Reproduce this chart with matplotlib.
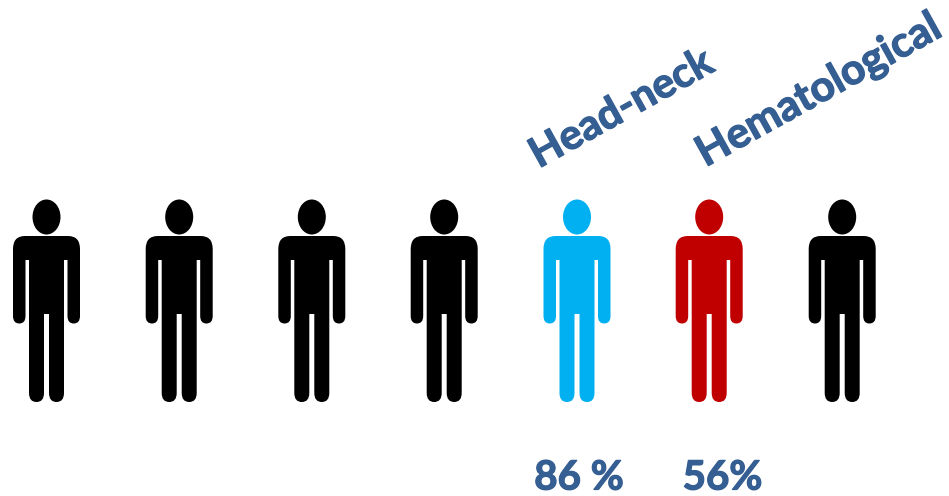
import matplotlib
matplotlib.use("Agg")
import matplotlib.pyplot as plt
import matplotlib.patheffects as pe
from matplotlib.patches import Ellipse, PathPatch
from matplotlib.path import Path

WIDTH, HEIGHT = 949, 496

person_x = [46.5, 179.2, 311.8, 444.2, 577, 709.2, 842.2]
person_colors = ["#000000", "#000000", "#000000", "#000000", "#00B0F0", "#C00000", "#000000"]
site_labels = ["Head-neck", "Hematological"]
pct_labels = ["86 %", "56%"]

BLUE = "#355F92"

plt.rcParams["font.family"] = ["Lato", "DejaVu Sans"]


def person_path(cx):
    """Pictogram body outline, symmetric around cx, in pixel coordinates."""
    # right half first, from the top of the shoulders down to the crotch
    half = [
        (Path.MOVETO, 0, 236),
        (Path.LINETO, 21.5, 236),
        (Path.CURVE3, 33.5, 236), (Path.CURVE3, 33.5, 249),
        (Path.LINETO, 33.5, 316),
        (Path.CURVE3, 33.5, 323.5), (Path.CURVE3, 27.2, 323.5),
        (Path.CURVE3, 21, 323.5), (Path.CURVE3, 21, 316),
        (Path.LINETO, 21, 260),
        (Path.LINETO, 17.5, 260),
        (Path.LINETO, 17.5, 393),
        (Path.CURVE3, 17.5, 402), (Path.CURVE3, 10, 402),
        (Path.CURVE3, 2.5, 402), (Path.CURVE3, 2.5, 393),
        (Path.LINETO, 2.5, 314),
    ]
    codes = [c for c, _, _ in half]
    verts = [(cx + dx, y) for _, dx, y in half]
    # mirror it back up the left side
    codes.append(Path.LINETO)
    verts.append((cx - half[-1][1], half[-1][2]))
    for i in range(len(half) - 1, 0, -1):
        _, dx, y = half[i - 1]
        codes.append(half[i][0])
        verts.append((cx - dx, y))
    return Path(verts + [verts[0]], codes + [Path.CLOSEPOLY])


fig = plt.figure(figsize=(WIDTH / 100, HEIGHT / 100), dpi=100)
ax = fig.add_axes([0, 0, 1, 1])
ax.set_xlim(0, WIDTH)
ax.set_ylim(HEIGHT, 0)
ax.axis("off")

for x, color in zip(person_x, person_colors):
    ax.add_patch(Ellipse((x, 217), 28, 35, facecolor=color, edgecolor="none"))
    ax.add_patch(PathPatch(person_path(x), facecolor=color, edgecolor="none"))

# a thin stroke thickens the bold weight a little
heavy = [pe.withStroke(linewidth=0.9, foreground=BLUE)]

ax.text(621.5, 109, site_labels[0], color=BLUE, fontsize=30, fontweight="bold", path_effects=heavy,
        rotation=29, rotation_mode="anchor", ha="center", va="center")
ax.text(819, 91, site_labels[1], color=BLUE, fontsize=30.5, fontweight="bold", path_effects=heavy,
        rotation=29, rotation_mode="anchor", ha="center", va="center")

ax.text(579, 478, pct_labels[0], color=BLUE, fontsize=29, fontweight="bold", path_effects=heavy,
        ha="center", va="center")
ax.text(722.5, 478, pct_labels[1], color=BLUE, fontsize=29, fontweight="bold", path_effects=heavy,
        ha="center", va="center")

fig.savefig("out.png", dpi=100)
